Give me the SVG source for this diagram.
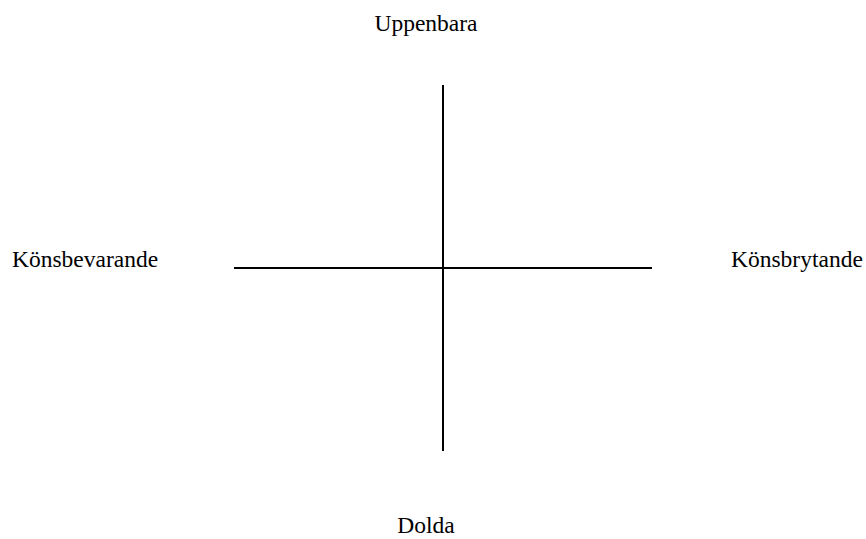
<svg xmlns="http://www.w3.org/2000/svg" width="866" height="539" viewBox="0 0 866 539">
<style>
text{font-family:"Liberation Serif","Times New Roman",serif;font-size:23.5px;fill:#000}
.ax{stroke:#000;stroke-width:2;fill:none}
</style>
<rect width="866" height="539" fill="#fff"/>
<g id="connectors">
<line class="ax" x1="443" y1="85" x2="443" y2="451"/>
<line class="ax" x1="234" y1="268" x2="652" y2="268"/>
</g>
<g id="top"><text x="426" y="31" text-anchor="middle">Uppenbara</text></g>
<g id="left"><text x="12" y="267">Könsbevarande</text></g>
<g id="right"><text x="731" y="267">Könsbrytande</text></g>
<g id="bottom"><text x="426" y="533" text-anchor="middle">Dolda</text></g>
</svg>
